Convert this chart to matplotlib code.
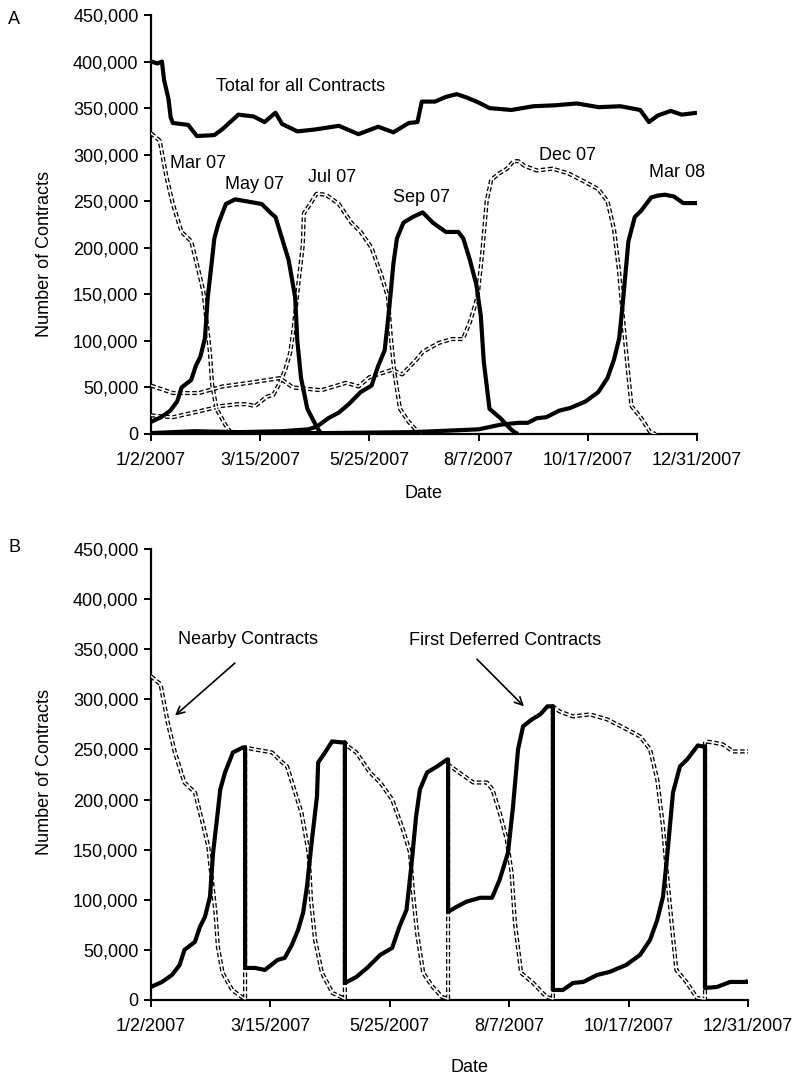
import numpy as np
import matplotlib
matplotlib.use('Agg')
import matplotlib.pyplot as plt
from matplotlib.ticker import FuncFormatter

plt.rcParams['font.family'] = ['Liberation Sans', 'DejaVu Sans']
plt.rcParams['font.size'] = 13

# x positions are trading days of 2007 (0 = 1/2/2007, 250 = 12/31/2007)
tick_days = [0, 50, 100, 150, 200, 250]
tick_labels = ['1/2/2007', '3/15/2007', '5/25/2007', '8/7/2007', '10/17/2007', '12/31/2007']
y_ticks = [0, 50000, 100000, 150000, 200000, 250000, 300000, 350000, 400000, 450000]

# ---- panel A: open interest per contract (thousands of contracts) ----
total_days = [0, 3, 5, 6, 8, 9, 10, 17, 21, 29, 33, 40, 47, 52, 57, 60, 67, 75, 86, 95,
              104, 111, 118, 122, 124, 130, 135, 140, 145, 150, 155, 165, 175, 185, 195,
              205, 215, 224, 228, 232, 238, 243, 250]
total_vals = [400, 398, 400, 380, 360, 340, 334, 332, 320, 321, 328, 343, 341, 335, 345, 333,
              325, 327, 331, 322, 330, 324, 334, 335, 357, 357, 362, 365, 361, 356, 350, 348,
              352, 353, 355, 351, 352, 348, 335, 342, 347, 343, 345]

mar07_days = [0, 4, 7, 10, 14, 18.4, 22, 24, 25.5, 27, 28, 30, 34, 37]
mar07_vals = [323, 315, 277, 247, 217, 207, 173, 153, 120, 87, 53, 27, 10, 0]

may07_days = [0, 4.6, 8.8, 12, 14, 18.4, 20.5, 22.6, 24.7, 26, 27.6, 29, 31, 34.3, 38.5,
              43.5, 50.7, 55, 57, 60, 63, 66, 67, 68.7, 71.6, 76, 78]
may07_vals = [13, 18, 25, 35, 50, 58, 73, 83, 103, 147, 180, 210, 227, 247, 252,
              250, 247, 237, 233, 210, 187, 147, 100, 60, 27, 7, 0]

jul07_days = [0, 10, 25, 32, 39.4, 43.5, 47.7, 53, 56, 59, 61.6, 63.7, 65.3, 67.4, 69.5,
              70, 72.9, 75.8, 80, 82.5, 86, 91.7, 96, 101, 105.5, 108.5, 109.7, 111.4,
              114, 118, 121.9, 124]
jul07_vals = [20, 18, 26, 30, 32, 32, 30, 40, 42, 55, 70, 87, 113, 160, 203,
              237, 247, 258, 257, 253, 247, 227, 217, 200, 170, 147, 107, 67,
              27, 13, 3, 0]

sep07_days = [0, 20, 40, 60, 72, 76, 81.2, 86, 90.5, 96, 101, 104, 107, 109, 111, 112.6,
              115.6, 119.8, 124.4, 129, 135, 140.7, 143, 146, 149, 151, 152.4, 155, 160,
              164, 165.8, 168]
sep07_vals = [1, 3, 2, 3, 5, 8, 17, 23, 32, 45, 52, 73, 90, 133, 183, 210,
              227, 233, 238, 227, 217, 217, 210, 187, 160, 127, 77, 27, 17,
              7, 3, 0]

dec07_days = [0, 10, 22, 32.6, 45, 59, 65, 78, 89.4, 95, 100, 110.5, 115, 121.6, 124.4,
              128, 132, 137.8, 142.8, 146, 149.5, 151.6, 153.7, 155.8, 159.5, 163, 166,
              168.3, 171, 176.7, 183.8, 191, 197.7, 204.8, 209, 212, 214.4, 216, 218,
              220, 224.5, 228.6, 231]
dec07_vals = [52, 44, 44, 51, 55, 60, 50, 47, 55, 51, 61, 69, 64, 80, 88,
              93, 98, 102, 102, 120, 147, 193, 250, 273, 280, 285, 293,
              293, 288, 283, 285, 280, 272, 263, 250, 220, 173, 127, 77,
              30, 17, 2, 0]

mar08_days = [0, 40, 80, 120, 150, 160, 168.3, 172.5, 176.7, 181, 186.8, 192, 199, 204.8,
              209, 212, 214.4, 216, 218.6, 221.5, 224.5, 229, 232, 235.3, 239.5, 243.7, 250]
mar08_vals = [0, 1, 1, 2, 5, 10, 12, 12, 17, 18, 25, 28, 35, 45,
              60, 80, 103, 140, 207, 233, 240, 254, 256, 257, 255, 248, 248]

# ---- panel B: nearby and first deferred (thousands of contracts) ----
nearby_days = [0, 4, 7, 10, 14, 18.4, 22, 24, 25.5, 27, 28, 30, 34, 38, 39.4,
               39.4, 43.5, 50.7, 55, 57, 60, 63, 66, 67, 68.7, 71.6, 76, 80.4, 81.2,
               81.2, 82.5, 86, 91.7, 96, 101, 105.5, 108.5, 109.7, 111.4, 114, 118, 121.9, 124.4,
               124.4, 129, 135, 140.7, 143, 146, 149, 151, 152.4, 155, 160, 164, 165.8, 168.3,
               168.3, 171, 176.7, 183.8, 191, 197.7, 204.8, 209, 212, 214.4, 216, 218, 220,
               224.5, 228.6, 232,
               232, 235.3, 239.5, 243.7, 250]
nearby_vals = [323, 315, 277, 247, 217, 207, 173, 153, 120, 87, 53, 27, 10, 3, 1,
               252, 250, 247, 237, 233, 210, 187, 147, 100, 60, 27, 7, 2, 1,
               257, 253, 247, 227, 217, 200, 170, 147, 107, 67, 27, 13, 3, 1,
               235, 227, 217, 217, 210, 187, 160, 127, 77, 27, 17, 7, 3, 1,
               293, 288, 283, 285, 280, 272, 263, 250, 220, 173, 127, 77, 30,
               17, 2, 1,
               258, 257, 255, 248, 248]

deferred_days = [0, 4.6, 8.8, 12, 14, 18.4, 20.5, 22.6, 24.7, 26, 27.6, 29, 31, 34.3, 38.5, 39.4,
                 39.4, 43.5, 47.7, 53, 56, 59, 61.6, 63.7, 65.3, 67.4, 69.5, 70, 72.9, 75.8, 80, 81.2,
                 81.2, 86, 90.5, 96, 101, 104, 107, 109, 111, 112.6, 115.6, 119.8, 124, 124.4,
                 124.4, 128, 132, 137.8, 142.8, 146, 149.5, 151.6, 153.7, 155.8, 159.5, 163, 166, 168.3,
                 168.3, 172.5, 176.7, 181, 186.8, 192, 199, 204.8, 209, 212, 214.4, 216, 218.6,
                 221.5, 224.5, 229, 231, 232,
                 232, 237, 242.5, 249.6, 250]
deferred_vals = [13, 18, 25, 35, 50, 58, 73, 83, 103, 147, 180, 210, 227, 247, 252, 252,
                 32, 32, 30, 40, 42, 55, 70, 87, 113, 160, 203, 237, 247, 258, 257, 257,
                 17, 23, 32, 45, 52, 73, 90, 133, 183, 210, 227, 233, 240, 240,
                 88, 93, 98, 102, 102, 120, 147, 193, 250, 273, 280, 285, 293, 293,
                 10, 10, 17, 18, 25, 28, 35, 45, 60, 80, 103, 140, 207,
                 233, 240, 254, 253, 253,
                 12, 13, 18, 18, 20]


def k(vals):
    return np.array(vals) * 1000


def solid(ax, days, vals):
    ax.plot(days, k(vals), color='black', lw=3.0, solid_joinstyle='round',
            solid_capstyle='butt', zorder=4)


def hollow_dash(ax, days, vals):
    # double thin dashed line: dashed black body with white core
    ax.plot(days, k(vals), color='black', lw=3.0, linestyle=(0, (1.1, 0.6)),
            dash_capstyle='butt', zorder=2)
    ax.plot(days, k(vals), color='white', lw=1.1, zorder=3)


def style_axes(ax):
    ax.set_xlim(0, 250)
    ax.set_ylim(0, 450000)
    ax.set_xticks(tick_days)
    ax.set_xticklabels(tick_labels)
    ax.set_yticks(y_ticks)
    ax.yaxis.set_major_formatter(FuncFormatter(lambda v, p: f'{int(v):,}'))
    for s in ['top', 'right']:
        ax.spines[s].set_visible(False)
    for s in ['left', 'bottom']:
        ax.spines[s].set_linewidth(1.6)
    ax.tick_params(direction='out', length=5, width=1.4, labelsize=13, pad=4)
    ax.tick_params(axis='x', pad=8)
    ax.patch.set_alpha(0)


fig = plt.figure(figsize=(7.98, 10.79), dpi=100)
W, H = 798.0, 1079.0
ax1 = fig.add_axes([151 / W, 1 - 434 / H, 546 / W, 419 / H])
ax2 = fig.add_axes([151 / W, 1 - 1000 / H, 597 / W, 451 / H])

# panel A
hollow_dash(ax1, mar07_days, mar07_vals)
hollow_dash(ax1, jul07_days, jul07_vals)
hollow_dash(ax1, dec07_days, dec07_vals)
solid(ax1, may07_days, may07_vals)
solid(ax1, sep07_days, sep07_vals)
solid(ax1, mar08_days, mar08_vals)
solid(ax1, total_days, total_vals)
style_axes(ax1)

ax1.text(68.7, 373700, 'Total for all Contracts', ha='center', va='center', fontsize=13)
ax1.text(21.5, 290000, 'Mar 07', ha='center', va='center', fontsize=13)
ax1.text(47.2, 268000, 'May 07', ha='center', va='center', fontsize=13)
ax1.text(82.8, 275000, 'Jul 07', ha='center', va='center', fontsize=13)
ax1.text(124, 253500, 'Sep 07', ha='center', va='center', fontsize=13)
ax1.text(190.5, 299600, 'Dec 07', ha='center', va='center', fontsize=13)
ax1.text(240.8, 281000, 'Mar 08', ha='center', va='center', fontsize=13)

# panel B
hollow_dash(ax2, nearby_days, nearby_vals)
solid(ax2, deferred_days, deferred_vals)
style_axes(ax2)

ax2.annotate('', xy=(9.2, 282000), xytext=(36, 338000),
             arrowprops=dict(arrowstyle='->', lw=1.2, color='black', mutation_scale=14))
ax2.text(40.6, 360000, 'Nearby Contracts', ha='center', va='center', fontsize=13)
ax2.annotate('', xy=(157, 291000), xytext=(135.7, 342000),
             arrowprops=dict(arrowstyle='->', lw=1.2, color='black', mutation_scale=14))
ax2.text(148.4, 359000, 'First Deferred Contracts', ha='center', va='center', fontsize=13)

# labels
fig.text(14 / W, 1 - 20 / H, 'A', ha='center', va='center', fontsize=13)
fig.text(14 / W, 1 - 548 / H, 'B', ha='center', va='center', fontsize=13)
fig.text(45 / W, 1 - 254 / H, 'Number of Contracts', rotation=90, ha='center', va='center', fontsize=13)
fig.text(45 / W, 1 - 772 / H, 'Number of Contracts', rotation=90, ha='center', va='center', fontsize=13)
fig.text(424 / W, 1 - 493 / H, 'Date', ha='center', va='center', fontsize=13)
fig.text(470 / W, 1 - 1068 / H, 'Date', ha='center', va='center', fontsize=13)

fig.savefig('out.png', dpi=100)
